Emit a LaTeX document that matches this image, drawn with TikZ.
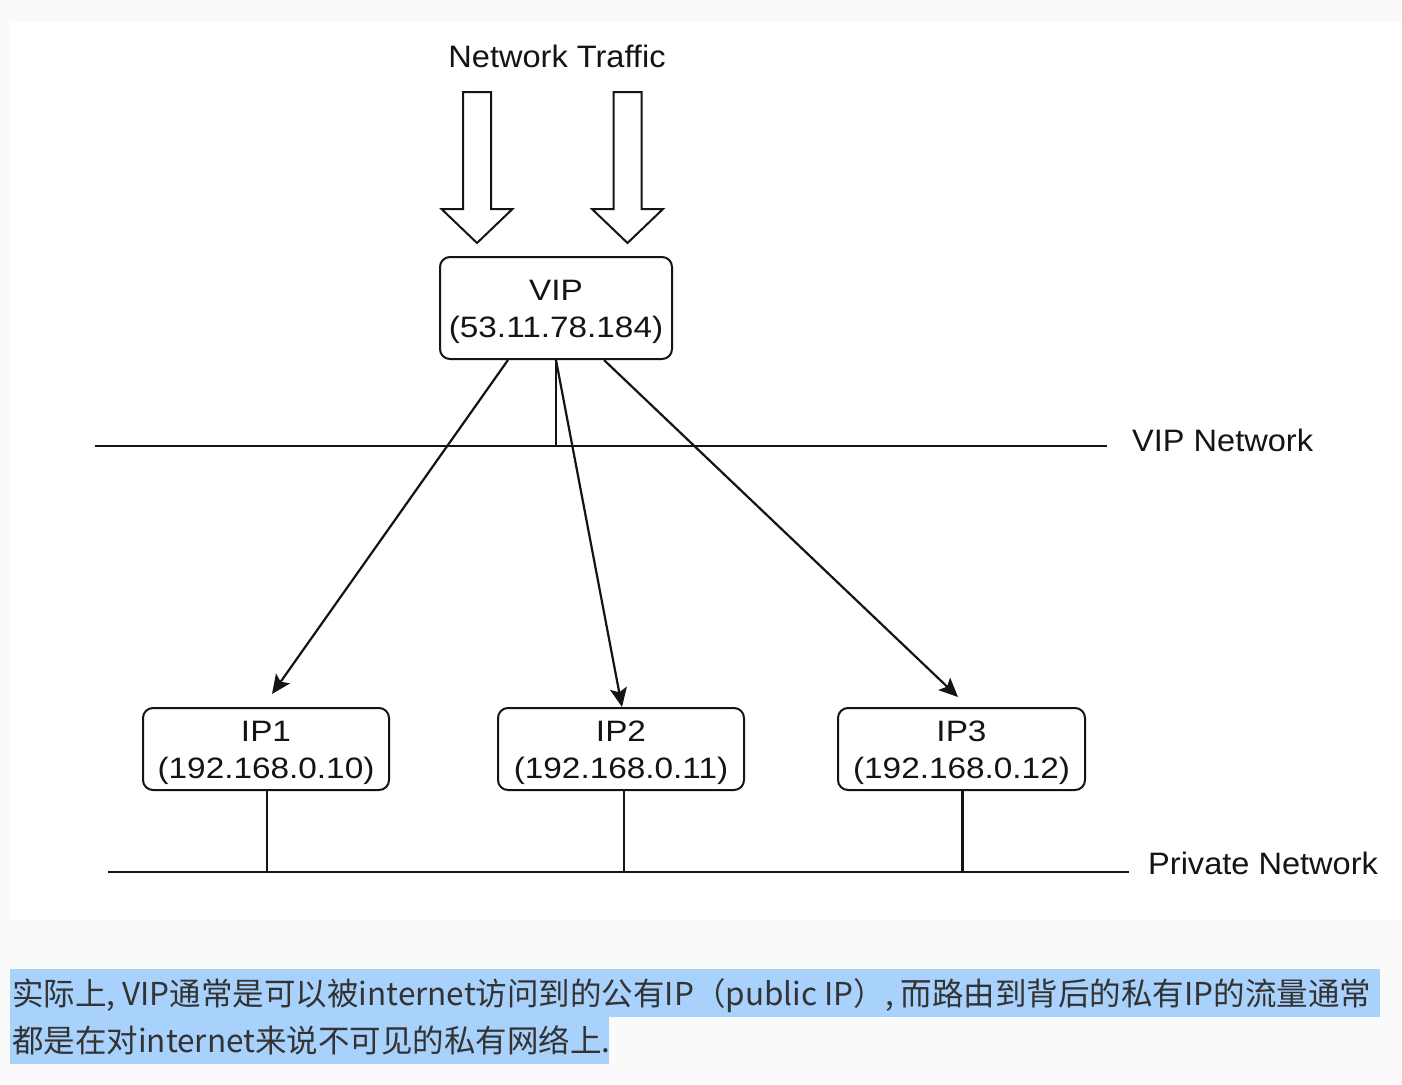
\documentclass[tikz,border=0pt]{standalone}
\usepackage{fontspec}
\setmainfont{Liberation Sans}
\newfontfamily\boxfont[FakeStretch=1.13]{Liberation Sans}
\newfontfamily\labfont[FakeStretch=1.05]{Liberation Sans}
\newfontfamily\cjk{Noto Sans CJK SC}
\usetikzlibrary{arrows.meta}
\definecolor{pagebg}{RGB}{250,250,250}
\definecolor{hl}{RGB}{168,209,252}
\definecolor{captext}{RGB}{51,51,51}
\definecolor{ln}{RGB}{20,20,20}
\newcommand\lowtext[1]{\raisebox{-4pt}[\height][\depth]{#1}}
\begin{document}
\begin{tikzpicture}[x=1pt,y=-1pt,
  box/.style={draw=ln,line width=2pt,rounded corners=10pt,align=center,inner sep=0pt,
    font=\boxfont\fontsize{29.5}{37}\selectfont,text=ln},
  lab/.style={inner sep=0pt,font=\labfont\fontsize{31}{37}\selectfont,text=ln},
  net/.style={draw=ln,line width=2.2pt},
  edgearrow/.style={draw=ln,line width=2.2pt,-{Stealth[length=19pt,width=17pt,inset=4pt]}},
  blockarrow/.style={draw=ln,line width=2pt,fill=white,line join=miter},
  caption/.style={anchor=base west,inner sep=0pt,font=\cjk\fontsize{31.5}{40}\selectfont,text=captext}
]
\useasboundingbox (0,0) rectangle (1402,1084);
% backgrounds
\fill[pagebg] (0,0) rectangle (1402,1084);
\fill[white] (11,22) rectangle (1402,920);
\fill[hl] (10,969) rectangle (1380,1017);
\fill[hl] (10,1017) rectangle (609,1064);

% title
\node[lab,anchor=base] (traffic) at (557,67) {Network Traffic};

% block arrows
\foreach \cx in {477,627.5}{
  \draw[blockarrow] (\cx-14,92) -- (\cx+14,92) -- (\cx+14,209) -- (\cx+35.5,209)
     -- (\cx,243) -- (\cx-35.5,209) -- (\cx-14,209) -- cycle;
}

% nodes
\node[box,minimum width=232pt,minimum height=102pt] (vip) at (556,308) {\lowtext{VIP}\\\lowtext{(53.11.78.184)}};
\node[box,minimum width=246pt,minimum height=82pt] (ip1) at (266,749) {\lowtext{IP1}\\\lowtext{(192.168.0.10)}};
\node[box,minimum width=246pt,minimum height=82pt] (ip2) at (621,749) {\lowtext{IP2}\\\lowtext{(192.168.0.11)}};
\node[box,minimum width=247pt,minimum height=82pt] (ip3) at (961.5,749) {\lowtext{IP3}\\\lowtext{(192.168.0.12)}};

% VIP network
\coordinate (vnl) at (95,446);
\coordinate (vnr) at (1107,446);
\draw[net] (vnl) -- (vnr);
\draw[net] (vip.south) -- (vip.south |- vnl);
\node[lab,anchor=base west] (vipnetlab) at (1132,451) {VIP Network};

% arrows to IPs
\coordinate (t1) at (272,694);
\coordinate (t3) at (958,697);
\draw[edgearrow] ([xshift=-48pt]vip.south) -- (t1);
\draw[edgearrow] (vip.south) -- ([xshift=1pt]ip2.north);
\draw[edgearrow] ([xshift=48pt]vip.south) -- (t3);

% private network
\coordinate (pnl) at (108,872);
\coordinate (pnr) at (1129,872);
\draw[net] (pnl) -- (pnr);
\draw[net] ([xshift=1pt]ip1.south) -- ([xshift=1pt]ip1.south |- pnl);
\draw[net] ([xshift=3pt]ip2.south) -- ([xshift=3pt]ip2.south |- pnl);
\draw[net] ([xshift=1pt]ip3.south) -- ([xshift=1pt]ip3.south |- pnl);
\node[lab,anchor=base west] (privlab) at (1148,874) {Private Network};

% caption
\node[caption] (cap1) at (12,1005) {实际上, VIP通常是可以被internet访问到的公有IP（public IP）, 而路由到背后的私有IP的流量通常};
\node[caption] (cap2) at (12,1052) {都是在对internet来说不可见的私有网络上.};
\end{tikzpicture}
\end{document}
